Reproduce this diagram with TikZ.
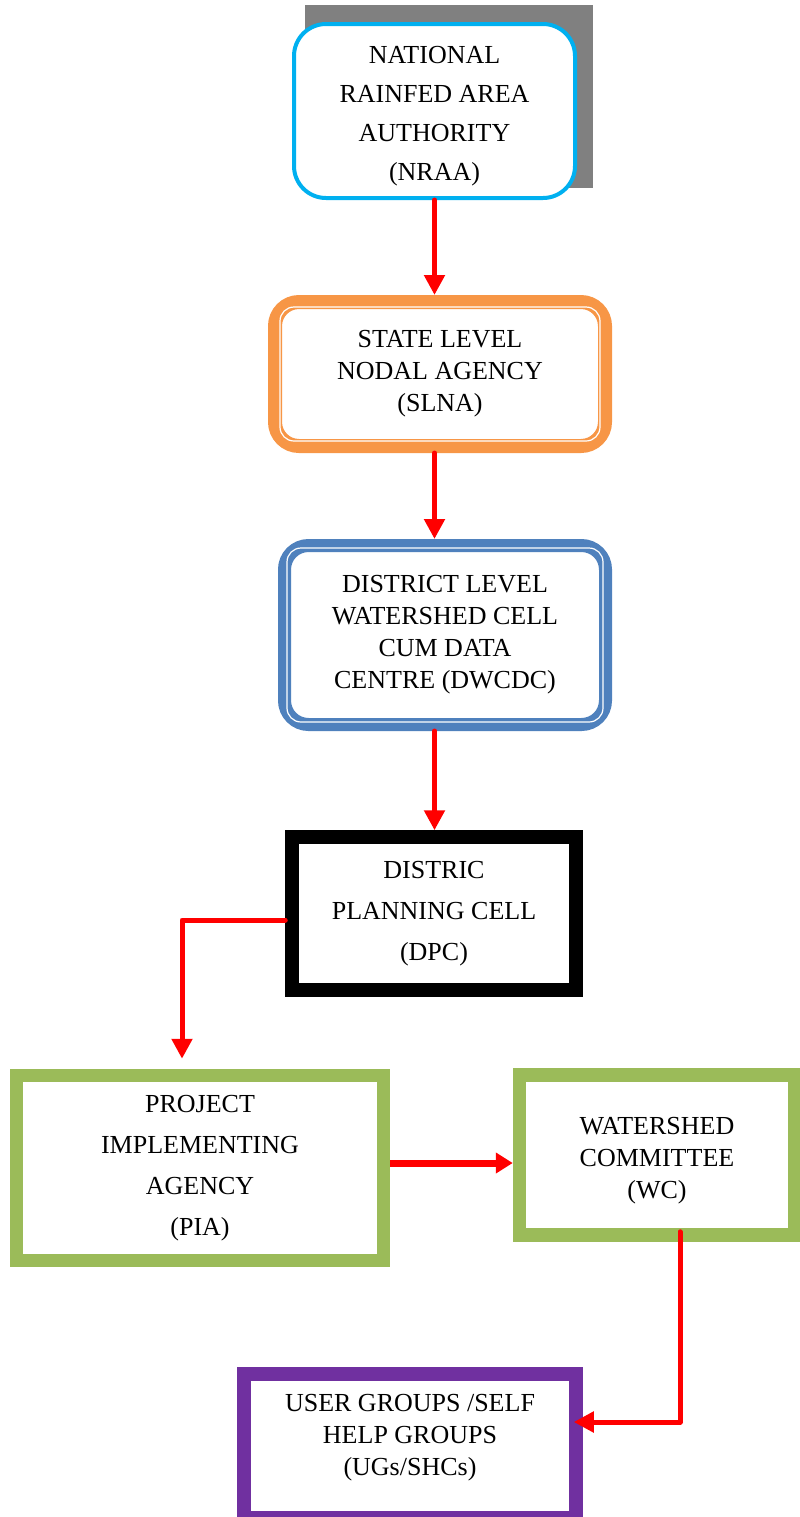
\documentclass[tikz,border=0pt]{standalone}
\usepackage{fontspec}
\setmainfont{Liberation Serif}
\usetikzlibrary{arrows.meta,positioning,calc}
\definecolor{nraablue}{RGB}{0,176,240}
\definecolor{slnaorange}{RGB}{247,150,70}
\definecolor{dwblue}{RGB}{79,129,189}
\definecolor{piagreen}{RGB}{155,187,89}
\definecolor{ugpurple}{RGB}{112,48,160}
\definecolor{shadowgray}{RGB}{128,128,128}

\begin{document}
\begin{tikzpicture}[x=0.5pt,y=-0.5pt,
  box/.style={align=center,inner sep=0pt,fill=white,font=\fontsize{13}{16}\selectfont},
  roundbox/.style={box,draw,rounded corners=12pt},
  thickbox/.style={box,draw,line width=6.75pt},
  loose/.style={font=\fontsize{13}{20.5}\selectfont},
  arr/.style={draw=red,line width=2.5pt,line cap=round,line join=round,
    -{Triangle[length=10pt,width=10pt]}}]
  \useasboundingbox (0,0) rectangle (799,1517);
  % shadow behind the top box
  \fill[shadowgray] (305,5) rectangle (593,188);
  % boxes
  \node[roundbox,draw=nraablue,line width=2pt,rounded corners=16pt,font=\fontsize{13}{19.5}\selectfont,
    text height=72pt,minimum width=140.5pt,minimum height=87pt] (nraa) at (434.5,111)
    {NATIONAL\\RAINFED AREA\\AUTHORITY\\(NRAA)};
  \node[roundbox,draw=slnaorange,line width=7pt,
    minimum width=165pt,minimum height=72pt] (slna) at (440,374)
    {STATE LEVEL\\NODAL AGENCY\\(SLNA)};
  \node[roundbox,draw=dwblue,line width=6.5pt,
    minimum width=160.5pt,minimum height=89.5pt] (dwcdc) at (445,635)
    {DISTRICT LEVEL\\WATERSHED CELL\\CUM DATA\\CENTRE (DWCDC)};
  \node[thickbox,draw=black,loose,
    minimum width=142pt,minimum height=76.5pt] (dpc) at (434,913.5)
    {DISTRIC\\PLANNING CELL\\(DPC)};
  \node[thickbox,draw=piagreen,loose,
    minimum width=183.5pt,minimum height=92.5pt] (pia) at (200,1168)
    {PROJECT\\IMPLEMENTING\\AGENCY\\(PIA)};
  \node[thickbox,draw=piagreen,text height=46.5pt,
    minimum width=137.5pt,minimum height=80pt] (wc) at (657,1155)
    {WATERSHED\\COMMITTEE\\(WC)};
  \node[thickbox,draw=ugpurple,text depth=11pt,
    minimum width=166pt,minimum height=72pt] (ugs) at (410,1446)
    {USER GROUPS /SELF\\HELP GROUPS\\(UGs/SHCs)};
  % thin white line inside the double borders
  \draw[white,line width=0.6pt,rounded corners=7pt]
    ([shift={(12,12)}]slna.north west) rectangle ([shift={(-12,-12)}]slna.south east);
  \draw[white,line width=0.6pt,rounded corners=7pt]
    ([shift={(9,9)}]dwcdc.north west) rectangle ([shift={(-9,-9)}]dwcdc.south east);
  % connectors
  \draw[arr] (nraa) -- (nraa |- slna.north);
  \draw[arr] (slna.south -| nraa) -- (dwcdc.north -| nraa);
  \draw[arr] (dwcdc.south -| nraa) -- (dpc.north -| nraa);
  \draw[arr] ([yshift=-3.25pt]dpc.west) -| ([xshift=-9pt,yshift=5pt]pia.north);
  \draw[arr,line width=3.5pt,line cap=butt,-{Triangle[length=8.5pt,width=10pt]}]
    ([yshift=2.5pt]pia.east) -- ([yshift=2.5pt]pia.east -| wc.west);
  \draw[arr] ([xshift=11.5pt,yshift=5pt]wc.south) |- ([xshift=-4.5pt,yshift=12pt]ugs.east);
\end{tikzpicture}
\end{document}
